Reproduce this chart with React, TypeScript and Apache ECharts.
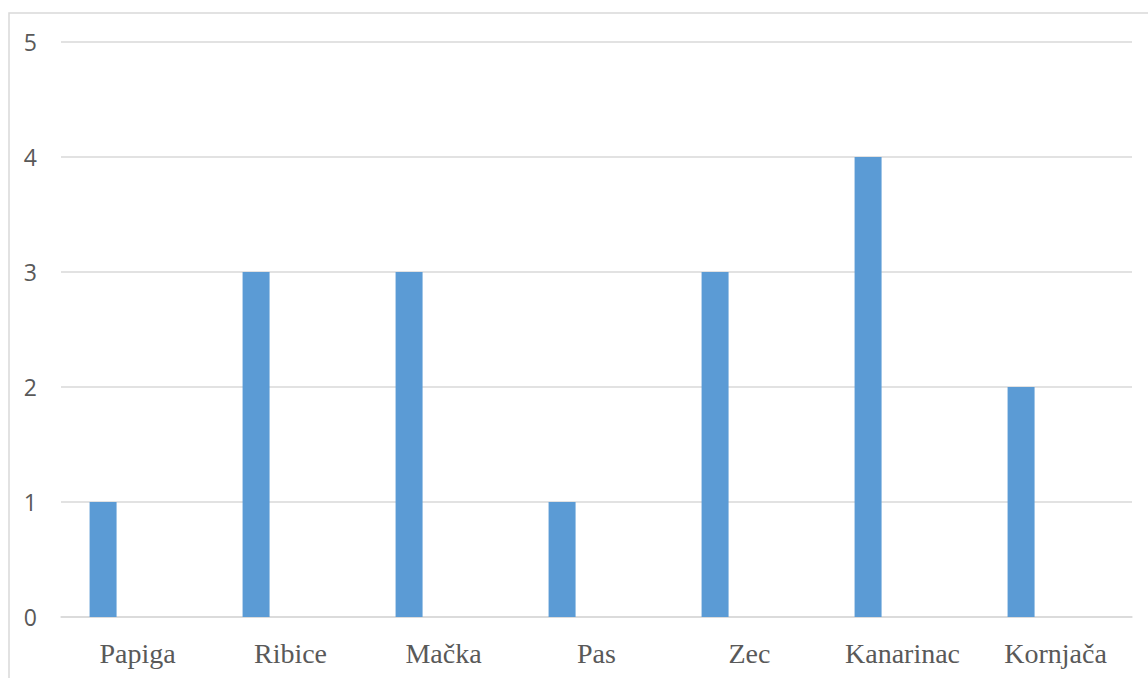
import React, { useEffect, useRef } from "react";
import * as echarts from "echarts";

const categories = ["Papiga", "Ribice", "Mačka", "Pas", "Zec", "Kanarinac", "Kornjača"];
const values = [1, 3, 3, 1, 3, 4, 2];
const emptySeries = [null, null, null, null, null, null, null];

export default function App() {
  const ref = useRef<HTMLDivElement>(null);
  useEffect(() => {
    if (!ref.current) return;
    const chart = echarts.init(ref.current, null, { renderer: "svg" });
    chart.setOption({
      animation: false,
      backgroundColor: "#ffffff",
      graphic: [
        {
          type: "rect",
          shape: { x: 9, y: 13, width: 1300, height: 800 },
          style: { fill: "none", stroke: "#d9d9d9", lineWidth: 1.5 },
          silent: true,
        },
      ],
      grid: { left: 61, right: 16, top: 42, bottom: 61 },
      xAxis: {
        type: "category",
        data: categories,
        axisTick: { show: false },
        axisLine: { lineStyle: { color: "#d9d9d9", width: 1.5 } },
        axisLabel: {
          color: "#595959",
          fontFamily: "Liberation Serif",
          fontSize: 28,
          margin: 22,
        },
      },
      yAxis: {
        type: "value",
        min: 0,
        max: 5,
        interval: 1,
        axisLine: { show: false },
        axisTick: { show: false },
        splitLine: { lineStyle: { color: "#d9d9d9", width: 1.5 } },
        axisLabel: {
          color: "#595959",
          fontFamily: "Open Sans",
          fontSize: 23,
          margin: 24,
        },
      },
      series: [
        {
          type: "bar",
          data: values,
          barWidth: 27,
          barGap: "155%",
          itemStyle: { color: "#5b9bd5" },
        },
        {
          type: "bar",
          data: emptySeries,
          barWidth: 27,
          itemStyle: { color: "#ed7d31" },
        },
      ],
    });
    return () => chart.dispose();
  }, []);
  return (
    <div
      ref={ref}
      style={{ position: "absolute", left: 0, top: 0, width: 1148, height: 678 }}
    />
  );
}
